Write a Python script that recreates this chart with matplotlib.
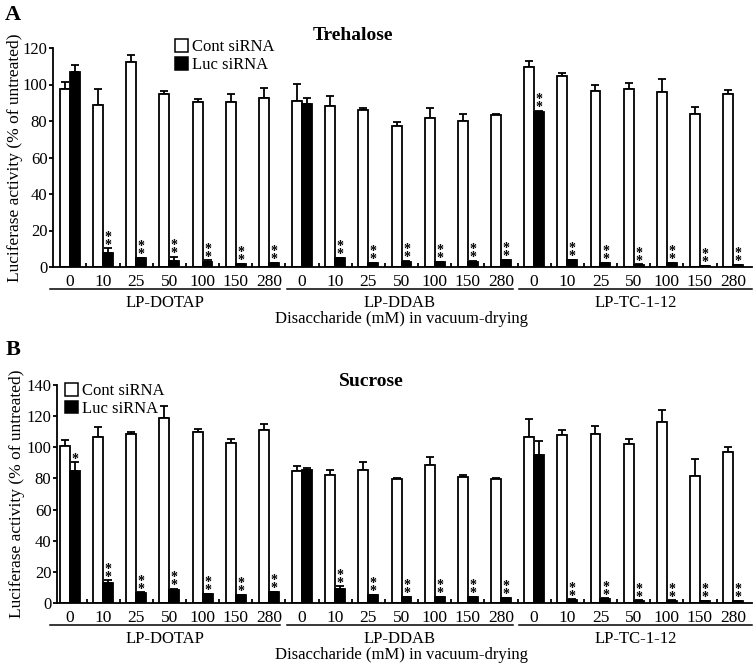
import numpy as np
import matplotlib
matplotlib.use("Agg")
import matplotlib.pyplot as plt
from matplotlib.patches import Rectangle
from matplotlib.lines import Line2D
import matplotlib.transforms as mtransforms

plt.rcParams['font.family'] = ['Liberation Serif', 'DejaVu Serif']

doses = ['0', '10', '25', '50', '100', '150', '280']
carriers = ['LP-DOTAP', 'LP-DDAB', 'LP-TC-1-12']
xlabels = doses * 3

# Trehalose panel
tre_cont = [97.5, 88.9, 112.5, 94.8, 90.4, 90.2, 92.6,
            90.7, 88.0, 85.8, 77.4, 81.6, 79.8, 83.4,
            109.6, 104.4, 96.2, 97.7, 95.7, 84.0, 94.8]
tre_cont_err = [3.7, 8.8, 3.9, 1.4, 1.6, 4.7, 5.4,
                9.5, 5.8, 1.1, 1.8, 5.3, 4.2, 0.6,
                3.1, 1.9, 3.7, 3.1, 7.3, 3.4, 2.0]
tre_luc = [106.6, 7.5, 4.8, 3.3, 2.9, 1.6, 2.0,
           89.5, 4.8, 2.0, 3.0, 2.6, 3.0, 3.8,
           85.2, 3.8, 2.0, 1.1, 2.0, 0.5, 1.0]
tre_luc_err = [4.1, 2.8, 0.3, 2.4, 0.8, 0.3, 0.3,
               2.9, 0.3, 0.3, 0.3, 0.3, 0.3, 0.3,
               0.4, 0.3, 0.3, 0.3, 0.3, 0.2, 0.3]
tre_sig = ['', '**', '**', '**', '**', '**', '**',
           '', '**', '**', '**', '**', '**', '**',
           '**', '**', '**', '**', '**', '**', '**']

# Sucrose panel
suc_cont = [100.6, 106.4, 108.6, 118.8, 109.6, 102.8, 110.9,
            84.6, 82.0, 85.4, 79.7, 88.9, 80.7, 79.7,
            106.4, 107.7, 108.6, 102.1, 116.3, 81.8, 97.0]
suc_cont_err = [4.3, 6.6, 1.4, 7.5, 2.2, 2.8, 4.3,
                3.2, 3.7, 5.0, 0.8, 4.9, 1.3, 0.8,
                11.8, 3.6, 4.9, 3.3, 7.5, 10.9, 3.0]
suc_luc = [84.6, 12.8, 6.4, 8.6, 5.8, 4.9, 6.9,
           85.2, 9.2, 4.9, 3.6, 3.6, 3.6, 3.2,
           94.9, 2.1, 2.6, 1.5, 1.5, 1.1, 1.1]
suc_luc_err = [5.8, 1.8, 0.4, 0.4, 0.3, 0.3, 0.4,
               1.7, 1.5, 0.3, 0.3, 0.3, 0.3, 0.3,
               9.0, 0.3, 0.3, 0.2, 0.2, 0.2, 0.2]
suc_sig = ['*', '**', '**', '**', '**', '**', '**',
           '', '**', '**', '**', '**', '**', '**',
           '', '**', '**', '**', '**', '**', '**']

W, H = 756, 666
fig = plt.figure(figsize=(W / 100, H / 100), dpi=100)


def px_axes(left, top, right, bottom):
    return fig.add_axes([left / W, 1 - bottom / H, (right - left) / W, (bottom - top) / H])


def draw_panel(ax, cont, cont_err, luc, luc_err, sig, ymax, title, title_pos,
               legend_anchor, xleft, ylab_x, letter, letter_pos):
    x = np.arange(len(cont))
    bw = 0.3
    ax.bar(x - bw / 2, cont, bw, color='white', edgecolor='black', linewidth=1.3, zorder=2)
    ax.bar(x + bw / 2, luc, bw, color='black', edgecolor='black', linewidth=1.3, zorder=2)
    ax.errorbar(x - bw / 2, cont, yerr=[np.zeros(len(x)), cont_err], fmt='none',
                ecolor='black', elinewidth=1.3, capsize=3, capthick=1.3, zorder=1)
    ax.errorbar(x + bw / 2, luc, yerr=[np.zeros(len(x)), luc_err], fmt='none',
                ecolor='black', elinewidth=1.3, capsize=3, capthick=1.3, zorder=1)
    for i, s in enumerate(sig):
        if s:
            ax.annotate('\n'.join(s), (x[i] + bw / 2, luc[i] + luc_err[i]),
                        xytext=(0, -2.5), textcoords='offset points',
                        ha='center', va='bottom', fontsize=10, fontweight='bold',
                        linespacing=0.5)

    ax.set_xlim(xleft, 20.57)
    ax.set_ylim(0, ymax)
    ax.set_yticks(np.arange(0, ymax + 1, 20))
    ax.set_xticks(x)
    ax.set_xticklabels(xlabels, fontsize=12.5)
    ax.set_xticks(x[:-1] + 0.5, minor=True)
    ax.tick_params(axis='x', which='major', length=0, pad=5)
    ax.tick_params(axis='x', which='minor', direction='in', length=3, width=1.3)
    ax.tick_params(axis='y', direction='out', length=3, width=1.3, labelsize=12, pad=1)
    for side in ['top', 'right']:
        ax.spines[side].set_visible(False)
    for side in ['left', 'bottom']:
        ax.spines[side].set_linewidth(1.3)

    ax.set_ylabel('Luciferase activity (% of untreated)', fontsize=12.5)
    ax.yaxis.set_label_coords(ylab_x, 0.5)

    trans = mtransforms.blended_transform_factory(ax.transData, ax.transAxes)
    ymax_px = ax.get_position().height * H
    line_y = -22 / ymax_px
    lab_y = -36 / ymax_px
    for g, name in enumerate(carriers):
        x0 = 7 * g - (0.6 if g == 0 else 0.45)
        x1 = 7 * g + 6.35 if g < 2 else 20.57
        ax.add_line(Line2D([x0, x1], [line_y, line_y], transform=trans, color='black',
                           linewidth=1.1, clip_on=False))
        ax.text((x0 + x1) / 2, lab_y, name, transform=trans, ha='center', va='center', fontsize=12)
    ax.text(10, -52 / ymax_px, 'Disaccharide (mM) in vacuum-drying', transform=trans,
            ha='center', va='center', fontsize=12)

    ax.text(title_pos[0], title_pos[1], title, transform=trans, ha='center', va='center',
            fontsize=14, fontweight='bold')

    handles = [Rectangle((0, 0), 1, 1, facecolor='white', edgecolor='black', linewidth=1.1),
               Rectangle((0, 0), 1, 1, facecolor='black', edgecolor='black', linewidth=1.1)]
    ax.legend(handles, ['Cont siRNA', 'Luc siRNA'], loc='upper left', bbox_to_anchor=legend_anchor,
              frameon=False, fontsize=12, handlelength=0.8, handleheight=0.8,
              handletextpad=0.25, labelspacing=0.1, borderpad=0, borderaxespad=0)

    fig.text(letter_pos[0] / W, 1 - letter_pos[1] / H, letter, fontsize=16, fontweight='bold',
             ha='center', va='center')


axA = px_axes(53, 48, 752, 267)
draw_panel(axA, tre_cont, tre_cont_err, tre_luc, tre_luc_err, tre_sig, 120,
           'Trehalose', (8.54, 1.055), (0.174, 1.04), -0.51, -0.043, 'A', (13, 15))

axB = px_axes(57, 385, 752, 603)
draw_panel(axB, suc_cont, suc_cont_err, suc_luc, suc_luc_err, suc_sig, 140,
           'Sucrose', (9.1, 1.014), (0.0115, 1.01), -0.39, -0.046, 'B', (13, 350))

fig.savefig('out.png', dpi=100)
